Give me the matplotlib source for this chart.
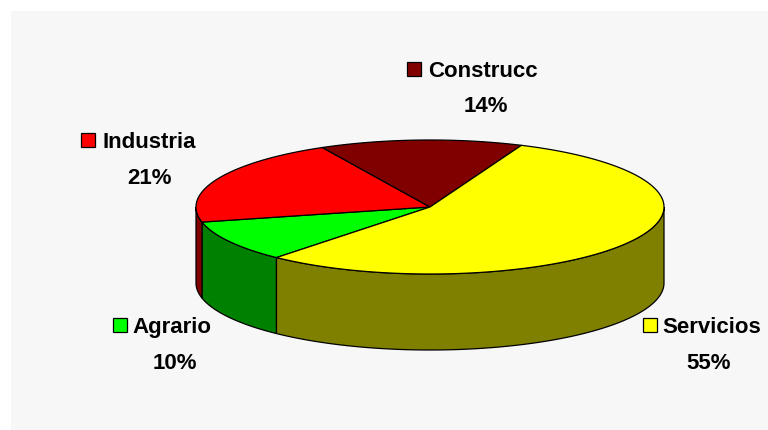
import numpy as np
import matplotlib
matplotlib.use('Agg')
import matplotlib.pyplot as plt
from matplotlib.patches import Polygon, Rectangle

# ---- data ----
categories = ['Agrario', 'Industria', 'Construcc', 'Servicios']
values = [10, 21, 14, 55]
pct_labels = ['10%', '21%', '14%', '55%']
top_colors = ['#00FF00', '#FF0000', '#800000', '#FFFF00']
side_colors = ['#008000', '#800000', '#400000', '#808000']

# ---- layout (pixel space) ----
cx, cy, rx, ry, depth = 430, 207, 234, 67, 76
start_angle = 229  # degrees, slices go clockwise
# label layout: (square_x, name_x, name_baseline, pct_center_x, pct_baseline)
label_layout = [
    (113, 132, 333, 175, 369),
    (81, 102, 148, 150, 184),
    (407, 428, 77, 486, 112),
    (643, 662, 333, 709, 369),
]

plt.rcParams['font.family'] = ['Liberation Sans', 'DejaVu Sans']

fig = plt.figure(figsize=(7.68, 4.30), dpi=100)
fig.patch.set_facecolor('white')
ax = fig.add_axes([0, 0, 1, 1])
ax.set_xlim(0, 768)
ax.set_ylim(430, 0)
ax.axis('off')
ax.add_patch(Rectangle((11, 11), 768, 430, facecolor='#f7f7f7', edgecolor='none', zorder=0))


def ellipse_pts(t_deg, dy=0.0):
    t = np.radians(t_deg)
    return np.column_stack([cx + rx * np.cos(t), cy - ry * np.sin(t) + dy])


total = float(sum(values))
theta1 = start_angle
wedges = []
for v in values:
    span = v / total * 360.0
    wedges.append((theta1 - span, theta1))
    theta1 -= span

# side walls (front half only: 180..360 degrees)
for (a, b), sc in zip(wedges, side_colors):
    for k in (-1, 0, 1, 2):
        lo = max(a + 360 * k, 180)
        hi = min(b + 360 * k, 360)
        if hi > lo:
            t = np.linspace(lo, hi, 120)
            top = ellipse_pts(t)
            bot = ellipse_pts(t, depth)
            poly = np.vstack([top, bot[::-1]])
            ax.add_patch(Polygon(poly, closed=True, facecolor=sc, edgecolor='black',
                                 linewidth=0.9, zorder=1))

# top faces
for (a, b), tc in zip(wedges, top_colors):
    t = np.linspace(a, b, 200)
    arc = ellipse_pts(t)
    poly = np.vstack([[cx, cy], arc])
    ax.add_patch(Polygon(poly, closed=True, facecolor=tc, edgecolor='black',
                         linewidth=0.9, zorder=2))

# labels
for name, pct, tc, (sqx, nx, nb, px, pb) in zip(categories, pct_labels, top_colors, label_layout):
    ax.add_patch(Rectangle((sqx, nb - 15), 14, 14, facecolor=tc, edgecolor='black',
                           linewidth=0.9, zorder=3))
    ax.text(nx, nb, name, fontsize=16, fontweight='bold', ha='left', va='baseline',
            color='black', zorder=3)
    ax.text(px, pb, pct, fontsize=16, fontweight='bold', ha='center', va='baseline',
            color='black', zorder=3)

fig.savefig('out.png', dpi=100, facecolor='white')
